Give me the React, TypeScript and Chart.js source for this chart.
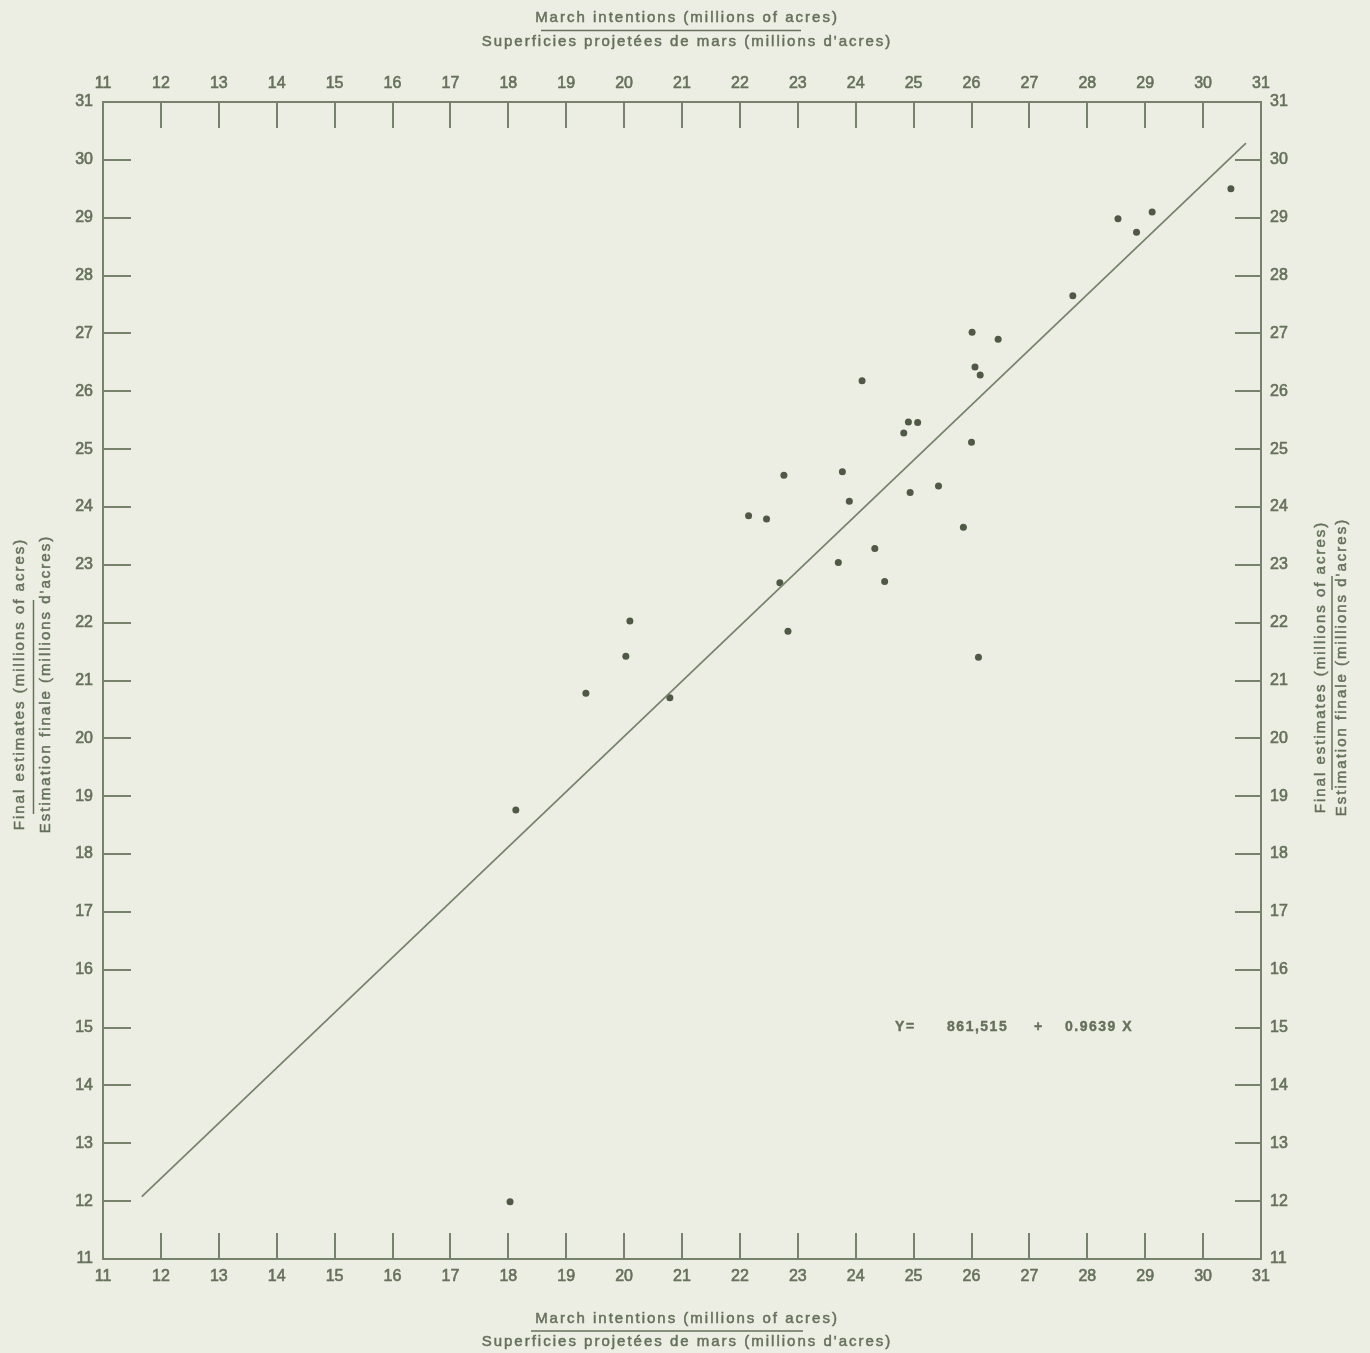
import React, { useEffect, useRef } from "react";
import { Chart, registerables } from "chart.js";

Chart.register(...registerables);

// ---- data ----
const AXIS_MIN = 11;
const AXIS_MAX = 31;
const TICK_STEP = 1;

// March intentions (x) and final estimates (y), millions of acres
const marchIntentions = [
  18.03, 18.13, 19.34, 20.03, 20.1, 20.79, 22.15, 22.46, 22.76, 22.69, 22.83,
  23.7, 23.77, 23.89, 24.11, 24.33, 24.5, 24.83, 24.91, 25.07, 24.94, 25.43,
  25.86, 26.0, 26.01, 26.06, 26.15, 26.12, 26.46, 27.75, 28.53, 28.85, 29.12,
  30.48,
];
const finalEstimates = [
  11.99, 18.76, 20.78, 21.42, 22.03, 20.7, 23.85, 23.79, 24.55, 22.69, 21.85,
  23.04, 24.61, 24.1, 26.18, 23.28, 22.71, 25.28, 25.47, 25.46, 24.25, 24.36,
  23.65, 25.12, 27.02, 26.42, 26.28, 21.4, 26.9, 27.65, 28.98, 28.75, 29.1,
  29.5,
];

// regression line end points as drawn
const regressionX = [11.67, 30.74];
const regressionY = [12.08, 30.29];

const equationParts = ["Y=", "861,515", "+", "0.9639 X"];
const equationAt = { x: 24.68, y: 15.0 };

const titleX = ["March intentions (millions of acres)", "Superficies projetées de mars (millions d'acres)"];
const titleY = ["Final estimates (millions of acres)", "Estimation finale (millions d'acres)"];

// ---- styles ----
const BG = "#eceee4";
const AXIS_COLOR = "#76826b";
const TEXT_COLOR = "#65715b";
const DOT_COLOR = "#4f5945";
const FONT = "'Liberation Sans', Arial, Helvetica, sans-serif";

const paperPlugin = {
  id: "paper",
  beforeDraw(chart: any) {
    const { ctx, width, height } = chart;
    ctx.save();
    ctx.fillStyle = BG;
    ctx.fillRect(0, 0, width, height);
    ctx.restore();
  },
};

const innerTicksPlugin = {
  id: "innerTicks",
  afterDraw(chart: any) {
    const { ctx, chartArea: a, scales } = chart;
    ctx.save();
    ctx.strokeStyle = AXIS_COLOR;
    ctx.lineWidth = 2;
    const inner = (v: number) => v > AXIS_MIN && v < AXIS_MAX;
    scales.x.ticks.forEach((t: any) => {
      if (!inner(t.value)) return;
      const px = Math.round(scales.x.getPixelForValue(t.value));
      ctx.beginPath();
      ctx.moveTo(px, a.bottom);
      ctx.lineTo(px, a.bottom - 26);
      ctx.stroke();
    });
    scales.x2.ticks.forEach((t: any) => {
      if (!inner(t.value)) return;
      const px = Math.round(scales.x2.getPixelForValue(t.value));
      ctx.beginPath();
      ctx.moveTo(px, a.top);
      ctx.lineTo(px, a.top + 26);
      ctx.stroke();
    });
    scales.y.ticks.forEach((t: any) => {
      if (!inner(t.value)) return;
      const py = Math.round(scales.y.getPixelForValue(t.value));
      ctx.beginPath();
      ctx.moveTo(a.left, py);
      ctx.lineTo(a.left + 28, py);
      ctx.stroke();
    });
    scales.y2.ticks.forEach((t: any) => {
      if (!inner(t.value)) return;
      const py = Math.round(scales.y2.getPixelForValue(t.value));
      ctx.beginPath();
      ctx.moveTo(a.right, py);
      ctx.lineTo(a.right - 26, py);
      ctx.stroke();
    });
    ctx.restore();
  },
};

function heavyText(ctx: any, s: string, x: number, y: number) {
  ctx.fillText(s, x, y);
  ctx.strokeText(s, x, y);
}

function twoLineTitle(ctx: any, lines: string[], cx: number, cy: number, gap: number, sepHalf: number, sepShift: number) {
  ctx.lineWidth = 0.5;
  heavyText(ctx, lines[0], cx, cy);
  heavyText(ctx, lines[1], cx, cy + gap);
  ctx.lineWidth = 1.5;
  ctx.beginPath();
  ctx.moveTo(cx - sepHalf + sepShift, cy + gap / 2 + 0.5);
  ctx.lineTo(cx + sepHalf + sepShift, cy + gap / 2 + 0.5);
  ctx.stroke();
}

const titlesPlugin = {
  id: "titles",
  afterDraw(chart: any) {
    const { ctx, scales } = chart;
    ctx.save();
    ctx.fillStyle = TEXT_COLOR;
    ctx.strokeStyle = TEXT_COLOR;
    ctx.font = `15px ${FONT}`;
    (ctx as any).letterSpacing = "2px";
    ctx.textAlign = "center";
    ctx.textBaseline = "middle";

    // top & bottom titles
    twoLineTitle(ctx, titleX, 687, 18, 24, 130, -16);
    twoLineTitle(ctx, titleX, 687, 1319, 23, 136, -20);

    // left title
    ctx.save();
    ctx.translate(20, 684);
    ctx.rotate(-Math.PI / 2);
    twoLineTitle(ctx, titleY, 0, 0, 26, 107, -23);
    ctx.restore();

    // right title
    ctx.save();
    ctx.translate(1321, 667);
    ctx.rotate(-Math.PI / 2);
    twoLineTitle(ctx, titleY, 0, 0, 21, 107, -16);
    ctx.restore();

    // regression equation
    const ex = scales.x.getPixelForValue(equationAt.x);
    const ey = scales.y.getPixelForValue(equationAt.y);
    ctx.font = `bold 14px ${FONT}`;
    (ctx as any).letterSpacing = "1.5px";
    ctx.textAlign = "left";
    ctx.lineWidth = 0.4;
    const offs = [0, 52, 139, 170];
    equationParts.forEach((p, i) => heavyText(ctx, p, ex + offs[i], ey));
    ctx.restore();
  },
};

function axisCommon(sizeFit: (s: any) => void, padding: number) {
  return {
    type: "linear" as const,
    min: AXIS_MIN,
    max: AXIS_MAX,
    ticks: {
      stepSize: TICK_STEP,
      autoSkip: false,
      maxRotation: 0,
      padding,
      color: TEXT_COLOR,
      textStrokeColor: TEXT_COLOR,
      textStrokeWidth: 0.6,
      font: { family: FONT, size: 16 },
    },
    grid: { display: true, drawOnChartArea: false, drawTicks: false, color: "rgba(0,0,0,0)" },
    border: { display: true, color: AXIS_COLOR, width: 2 },
    afterFit: sizeFit,
  };
}

export default function App() {
  const canvasRef = useRef<HTMLCanvasElement | null>(null);

  useEffect(() => {
    document.body.style.margin = "0";
    document.body.style.background = BG;
    const canvas = canvasRef.current;
    if (!canvas) return;
    const points = marchIntentions.map((x, i) => ({ x, y: finalEstimates[i] }));
    const line = regressionX.map((x, i) => ({ x, y: regressionY[i] }));

    const chart = new Chart(canvas, {
      type: "scatter",
      data: {
        datasets: [
          {
            label: "Regression",
            data: line,
            showLine: true,
            borderColor: AXIS_COLOR,
            borderWidth: 1.7,
            pointRadius: 0,
            xAxisID: "x",
            yAxisID: "y",
          },
          {
            label: "Years",
            data: points,
            showLine: false,
            backgroundColor: DOT_COLOR,
            borderColor: DOT_COLOR,
            borderWidth: 0,
            pointRadius: 3.5,
            xAxisID: "x",
            yAxisID: "y",
          },
        ],
      },
      options: {
        responsive: false,
        animation: false,
        devicePixelRatio: 1,
        layout: { padding: 0 },
        plugins: {
          legend: { display: false },
          tooltip: { enabled: false },
        },
        scales: {
          x: { ...axisCommon((s: any) => { s.height = 94; }, 8), position: "bottom" },
          x2: { ...axisCommon((s: any) => { s.height = 102; }, 9), position: "top" },
          y: { ...axisCommon((s: any) => { s.width = 103; }, 10), position: "left" },
          y2: { ...axisCommon((s: any) => { s.width = 109; }, 9), position: "right" },
        },
      } as any,
      plugins: [paperPlugin, innerTicksPlugin, titlesPlugin],
    });
    return () => chart.destroy();
  }, []);

  return (
    <div style={{ position: "absolute", left: 0, top: 0, width: 1370, height: 1353, background: BG }}>
      <canvas ref={canvasRef} width={1370} height={1353} style={{ display: "block", width: 1370, height: 1353 }} />
    </div>
  );
}
